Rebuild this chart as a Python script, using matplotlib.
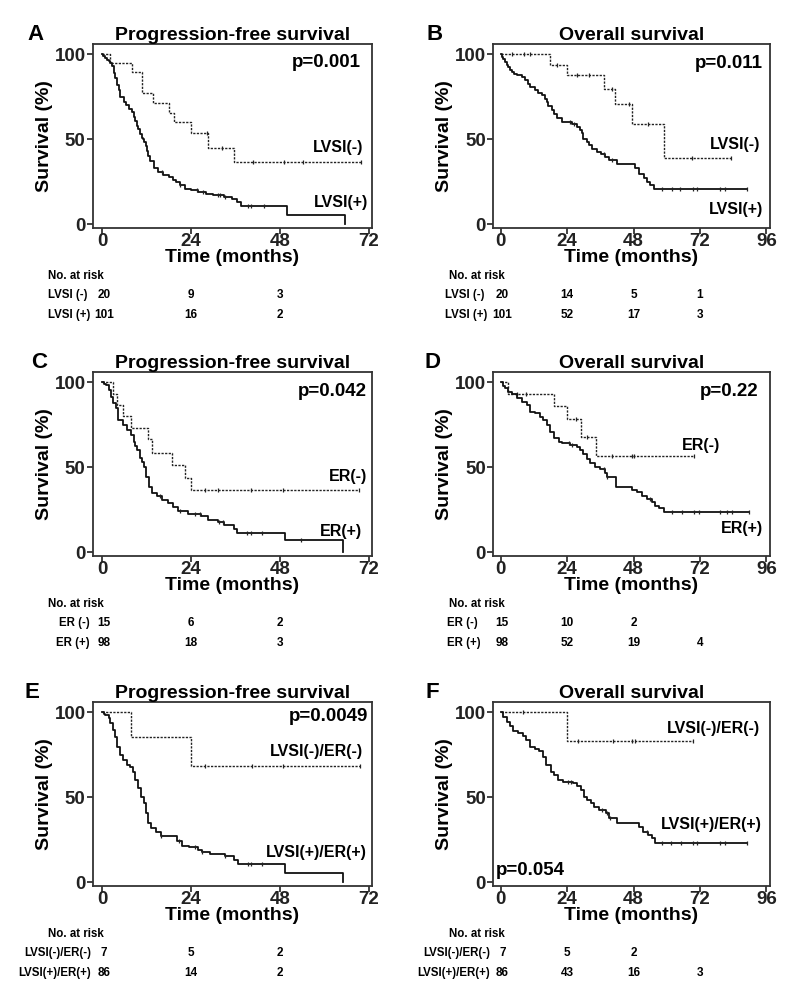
import numpy as np
import matplotlib
matplotlib.use("Agg")
import matplotlib.pyplot as plt

plt.rcParams['font.family'] = ['Liberation Sans', 'DejaVu Sans']
plt.rcParams['font.weight'] = 'bold'

# ---- data (months, survival %) ----
# Panel A: PFS by LVSI
a_neg_t = [2.2, 8.0, 10.7, 13.7, 18.1, 19.4, 23.9, 28.6, 35.6]
a_neg_s = [95, 89.5, 77.5, 71.5, 65.5, 60, 53.5, 45, 36.5]
a_neg_end = 70
a_neg_c = [28.2, 32.4, 40.8, 49.0, 54.3, 70]
a_pos_t = [0.3, 0.8, 1.3, 1.8, 2.2, 2.7, 3.1, 3.6, 4.0, 4.5, 4.9, 5.8, 6.5, 7.2, 8.1, 8.6, 9.0,
           9.4, 9.8, 10.3, 10.7, 11.1, 11.4, 11.8, 12.1, 12.5, 13.0, 13.9, 15.0, 16.5, 18.0, 19.0,
           20.0, 21.0, 22.5, 24.0, 26.0, 28.0, 30.0, 33.0, 35.0, 36.5, 37.5, 50.0, 65.5]
a_pos_s = [99, 98, 97, 96, 95, 93, 89, 86, 82, 79, 75, 72, 70, 68, 66, 63, 61, 58, 56, 53, 51, 50,
           48.5, 46, 43, 40, 37, 33, 31, 29, 28, 26, 25, 23, 21, 20, 19, 18, 17, 16, 15, 13, 10.5, 5.2, 0]
a_pos_end = 65.5
a_pos_c = [16.1, 21.0, 25.5, 27.3, 31.3, 31.8, 33.1, 39.4, 40.3, 43.6]

# Panel B: OS by LVSI
b_neg_t = [17.9, 23.9, 37.2, 41.4, 47.4, 58.9]
b_neg_s = [93.9, 87.7, 79.8, 70.6, 59.3, 39.1]
b_neg_end = 83.2
b_neg_c = [4.0, 8.5, 10.5, 20.3, 27.7, 32.0, 40.2, 46.2, 53.4, 69.1, 83.2]
b_pos_t = [0.5, 1.0, 1.6, 2.2, 2.8, 3.4, 4.0, 4.9, 5.8, 7.6, 8.8, 9.7, 10.6, 12.4, 13.6, 14.8, 16.0,
           16.6, 17.2, 18.5, 19.4, 20.3, 22.1, 25.7, 27.5, 28.7, 29.3, 29.9, 31.1, 32.0, 32.9, 34.7,
           36.2, 37.7, 39.0, 42.0, 48.6, 49.8, 51.6, 52.8, 54.0, 55.5]
b_pos_s = [98.5, 97.5, 95.5, 94, 92.5, 91, 89.6, 88.6, 87.7, 86.7, 84.7, 82.8, 80.8, 78.9, 77.5, 75.9,
           74, 72, 69.5, 67, 65.2, 62.5, 60.3, 59.3, 57.3, 55.5, 53.5, 50.5, 48.5, 46.5, 44.6, 42.7,
           41.2, 39.7, 37.8, 35.2, 32.9, 29.9, 27, 25, 23.1, 20.7]
b_pos_end = 89
b_pos_c = [25.1, 26.3, 37.2, 40.2, 58.3, 61.9, 64.9, 69.5, 70.9, 79.4, 81.2, 89]

# Panel C: PFS by ER
c_neg_t = [2.8, 4.1, 5.5, 7.9, 12.4, 13.5, 18.8, 22.3, 23.9]
c_neg_s = [93.3, 86.7, 80, 73.3, 66.7, 58.7, 51.3, 44, 36.7]
c_neg_end = 69.3
c_neg_c = [27.9, 31.2, 40.3, 48.8, 69.3]
c_pos_t = [0.5, 1.06, 1.95, 2.4, 3.0, 3.7, 4.4, 5.5, 6.8, 7.7, 8.6, 9.0, 9.5, 10.3, 10.8, 11.3, 11.9,
           12.6, 13.5, 14.8, 16.1, 17.9, 19.2, 20.6, 23.2, 26.8, 28.5, 31.2, 33.0, 35.6, 36.5, 49.4, 65.1]
c_pos_s = [99, 98.4, 95.5, 91.6, 87.7, 84.7, 77.9, 75, 72, 69.1, 65.2, 62.5, 60.3, 55.4, 53, 50.5, 44.6,
           38.7, 34.8, 32.9, 30.9, 29, 26.6, 24.1, 22.7, 21.1, 18.8, 17.6, 16.2, 13.7, 11.4, 7.4, 0]
c_pos_end = 65.1
c_pos_c = [15.7, 21.0, 25.0, 26.3, 31.6, 32.5, 39.2, 40.1, 43.2, 53.8]

# Panel D: OS by ER
d_neg_t = [2.8, 19.4, 23.9, 29.0, 34.5]
d_neg_s = [93.3, 86.2, 78.4, 68.0, 56.7]
d_neg_end = 69.7
d_neg_c = [6.0, 9.0, 27.3, 31.1, 40.2, 47.4, 48.0, 69.7]
d_pos_t = [0.8, 1.6, 2.8, 4.0, 5.8, 7.6, 9.4, 10.6, 12.4, 14.2, 15.4, 16.6, 17.9, 19.1, 20.9, 22.1,
           25.1, 27.5, 28.7, 29.9, 31.1, 32.3, 34.1, 35.9, 37.8, 38.4, 41.7, 47.4, 49.2, 51.0, 52.8,
           54.6, 55.9, 57.1, 59.1]
d_pos_s = [98, 96.5, 94.5, 93.2, 90.6, 88.6, 86.7, 82.8, 81.8, 79.8, 77.9, 75, 71, 67.1, 65.2, 64.2,
           63.2, 61.8, 60.3, 57.9, 54.8, 52.4, 50.5, 48.9, 46.6, 44.2, 38.7, 36.8, 35.2, 32.9, 31.3,
           29.9, 27.4, 26, 23.7]
d_pos_end = 89.6
d_pos_c = [24.5, 25.7, 37.2, 38.4, 54.0, 61.9, 65.5, 69.7, 71.5, 79.4, 81.8, 83.6, 89.6]

# Panel E: PFS by LVSI/ER
e_neg_t = [7.9, 24.0]
e_neg_s = [85.7, 68.6]
e_neg_end = 69.5
e_neg_c = [27.8, 40.4, 48.8, 69.5]
e_pos_t = [0.5, 0.9, 1.8, 2.2, 2.9, 3.5, 4.0, 4.7, 5.7, 6.6, 7.5, 8.2, 8.8, 9.7, 10.6, 11.2, 11.9,
           12.4, 13.2, 14.6, 15.9, 20.3, 21.6, 23.4, 26.0, 26.9, 29.1, 33.1, 35.7, 36.6, 49.4, 65.0]
e_pos_s = [99, 98.4, 96.5, 93.5, 89.6, 85.7, 79.8, 75, 72, 69.1, 68.1, 65.2, 60.3, 55.4, 50.5, 46.6,
           40.7, 34.8, 31.9, 29.9, 27, 24.1, 21.5, 20.5, 19.2, 17.6, 16.8, 15.3, 12.9, 10.8, 5.5, 0]
e_pos_end = 65.0
e_pos_c = [15.9, 20.7, 25.2, 26.9, 33.1, 39.3, 40.2, 43.2]

# Panel F: OS by LVSI/ER
f_neg_t = [23.8]
f_neg_s = [83.3]
f_neg_end = 69.4
f_neg_c = [8.1, 28.1, 40.5, 47.4, 48.6, 69.4]
f_pos_t = [0.95, 2.1, 3.3, 4.5, 6.3, 8.1, 9.3, 10.5, 12.3, 14.0, 15.2, 16.4, 18.2, 19.4, 20.6, 22.4,
           26.0, 27.7, 28.9, 30.1, 31.3, 32.5, 33.7, 35.5, 37.9, 39.0, 42.0, 49.8, 51.5, 53.3, 54.5, 55.7]
f_pos_s = [97.5, 94.5, 92, 89.2, 87.7, 86.1, 83.8, 79.8, 78.3, 77, 74, 69.1, 65.2, 63.2, 60.3, 59.3,
           58.3, 56.4, 54.4, 50.5, 48.5, 46.6, 44.2, 42.7, 40.7, 37.8, 34.8, 32.5, 29.9, 28, 26, 23.1]
f_pos_end = 89
f_pos_c = [24.2, 25.4, 36.7, 38.5, 39.6, 52.7, 58.1, 61.7, 65.0, 69.4, 70.8, 79.3, 81.0, 89]

# risk tables
risk_a = [[20, 9, 3], [101, 16, 2]]
risk_b = [[20, 14, 5, 1], [101, 52, 17, 3]]
risk_c = [[15, 6, 2], [98, 18, 3]]
risk_d = [[15, 10, 2], [98, 52, 19, 4]]
risk_e = [[7, 5, 2], [86, 14, 2]]
risk_f = [[7, 5, 2], [86, 43, 16, 3]]

# ---- drawing ----
fig = plt.figure(figsize=(8, 10), dpi=100)
W, H = 800.0, 1000.0


def km(ax, t, s, end, cens, dotted):
    x = [0] + list(t) + [end]
    y = [100] + list(s) + [s[-1]]
    if dotted:
        ax.step(x, y, where='post', color='#222222', lw=1.0, ls=(0, (1.6, 1.0)))
    else:
        ax.step(x, y, where='post', color='#111111', lw=1.3)
    tt = np.array(t)
    ss = np.array(s)
    cy = []
    for c in cens:
        idx = np.searchsorted(tt, c, side='right') - 1
        cy.append(100 if idx < 0 else ss[idx])
    ax.plot(cens, cy, ls='none', marker='|', ms=3.5, mew=0.9, color='#222222')


def panel(px, py, xmax, xtick, letter, title, pval, pxy, pha, labels, lab_pos,
          curves, risk, row_names, row_x, row_ha, letter_x):
    wide = xmax > 80
    ax = fig.add_axes([px / W, 1 - (py + 184) / H, (277 if wide else 280) / W, 184 / H])
    for (t, s, end, cens, dotted) in curves:
        km(ax, t, s, end, cens, dotted)
    ax.set_xlim(-2.9 if wide else -2.6, xmax)
    ax.set_ylim(-2, 106.3)
    ax.set_xticks(xtick)
    ax.set_yticks([0, 50, 100])
    ax.tick_params(axis='both', labelsize=13.5, length=4, width=1.2, pad=1, direction='out',
                   colors='#222222')
    ax.tick_params(axis='x', pad=0)
    for sp in ax.spines.values():
        sp.set_linewidth(1.3)
        sp.set_color('#333333')
    ax.set_xlabel('Time (months)', fontsize=14, fontweight='bold', labelpad=-1)
    ax.set_ylabel('Survival (%)', fontsize=14, fontweight='bold', labelpad=1)
    ax.set_title(title, fontsize=14, fontweight='bold', pad=1)
    ax.text(pxy[0], pxy[1], pval, transform=ax.transAxes, ha=pha, va='center',
            fontsize=13.5, fontweight='bold')
    for lab, (lx, ly) in zip(labels, lab_pos):
        ax.text(lx, ly, lab, transform=ax.transAxes, ha='right', va='center',
                fontsize=11.5, fontweight='bold')
    fig.text(letter_x / W, 1 - (py - 9) / H, letter, fontsize=16, fontweight='bold',
             ha='center', va='center')
    # risk table
    base = py + 232
    fig.text((px - 44) / W, 1 - base / H, 'No. at risk',
             fontsize=8.3, fontweight='bold', ha='left', va='center')
    for r, (name, vals) in enumerate(zip(row_names, risk)):
        yy = 1 - (base + 19.5 * (r + 1)) / H
        fig.text(row_x / W, yy, name, fontsize=8.3, fontweight='bold', ha=row_ha, va='center')
        for k, v in enumerate(vals):
            xd = ax.transData.transform((xtick[k], 0))[0]
            fig.text(xd / W + (0.002 if k == 0 else 0), yy, str(v), fontsize=8.5,
                     fontweight='bold', ha='center', va='center')
    return ax


panel(92.5, 43.7, 73, [0, 24, 48, 72], 'A', 'Progression-free survival', 'p=0.001',
      (0.957, 0.897), 'right', ['LVSI(-)', 'LVSI(+)'], [(0.968, 0.434), (0.986, 0.135)],
      [(a_neg_t, a_neg_s, a_neg_end, a_neg_c, True), (a_pos_t, a_pos_s, a_pos_end, a_pos_c, False)],
      risk_a, ['LVSI (-)', 'LVSI (+)'], 48, 'left', 35)

panel(492.7, 43.7, 97.2, [0, 24, 48, 72, 96], 'B', 'Overall survival', 'p=0.011',
      (0.975, 0.89), 'right', ['LVSI(-)', 'LVSI(+)'], [(0.967, 0.45), (0.977, 0.098)],
      [(b_neg_t, b_neg_s, b_neg_end, b_neg_c, True), (b_pos_t, b_pos_s, b_pos_end, b_pos_c, False)],
      risk_b, ['LVSI (-)', 'LVSI (+)'], 445, 'left', 435)

panel(92.5, 371.7, 73, [0, 24, 48, 72], 'C', 'Progression-free survival', 'p=0.042',
      (0.98, 0.89), 'right', ['ER(-)', 'ER(+)'], [(0.982, 0.43), (0.964, 0.13)],
      [(c_neg_t, c_neg_s, c_neg_end, c_neg_c, True), (c_pos_t, c_pos_s, c_pos_end, c_pos_c, False)],
      risk_c, ['ER (-)', 'ER (+)'], 90, 'right', 39)

panel(492.7, 371.7, 97.2, [0, 24, 48, 72, 96], 'D', 'Overall survival', 'p=0.22',
      (0.96, 0.89), 'right', ['ER(-)', 'ER(+)'], [(0.82, 0.60), (0.976, 0.15)],
      [(d_neg_t, d_neg_s, d_neg_end, d_neg_c, True), (d_pos_t, d_pos_s, d_pos_end, d_pos_c, False)],
      risk_d, ['ER (-)', 'ER (+)'], 447, 'left', 433)

panel(92.5, 701.7, 73, [0, 24, 48, 72], 'E', 'Progression-free survival', 'p=0.0049',
      (0.985, 0.918), 'right', ['LVSI(-)/ER(-)', 'LVSI(+)/ER(+)'], [(0.965, 0.728), (0.98, 0.178)],
      [(e_neg_t, e_neg_s, e_neg_end, e_neg_c, True), (e_pos_t, e_pos_s, e_pos_end, e_pos_c, False)],
      risk_e, ['LVSI(-)/ER(-)', 'LVSI(+)/ER(+)'], 91, 'right', 32)

panel(492.7, 701.7, 97.2, [0, 24, 48, 72, 96], 'F', 'Overall survival', 'p=0.054',
      (0.01, 0.085), 'left', ['LVSI(-)/ER(-)', 'LVSI(+)/ER(+)'], [(0.965, 0.857), (0.972, 0.33)],
      [(f_neg_t, f_neg_s, f_neg_end, f_neg_c, True), (f_pos_t, f_pos_s, f_pos_end, f_pos_c, False)],
      risk_f, ['LVSI(-)/ER(-)', 'LVSI(+)/ER(+)'], 490, 'right', 432)

fig.savefig('out.png', dpi=100)
